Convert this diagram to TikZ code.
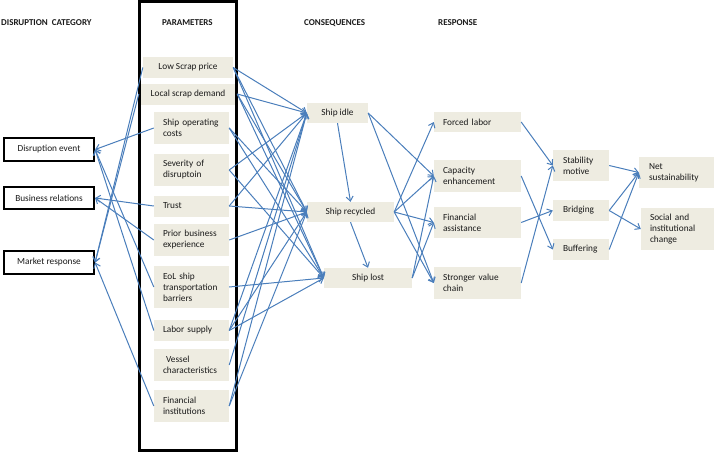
\documentclass[tikz,border=0pt]{standalone}
\usepackage{fontspec}
\setmainfont{Carlito}
\usetikzlibrary{arrows.meta}
\definecolor{lineblue}{HTML}{4A7EBB}
\definecolor{boxfill}{HTML}{EEECE1}
\definecolor{txt}{HTML}{1A1A1A}
\begin{document}
\begin{tikzpicture}[x=1pt,y=-1pt,
  every node/.style={font=\fontsize{9.3}{11}\selectfont, text=txt},
  pbox/.style={fill=boxfill, inner xsep=9pt, inner ysep=0pt, align=left},
  cbox/.style={fill=boxfill, inner sep=0pt, align=center},
  lbox/.style={draw=black, line width=2.2pt, fill=white, inner sep=0pt, align=center, minimum width=90pt},
  hdr/.style={font=\fontsize{9}{10}\selectfont\bfseries, anchor=west, inner sep=0pt},
  conn/.style={draw=lineblue, line width=1pt, -{Straight Barb[length=4.5pt,width=7pt]}},
]
\useasboundingbox (0,0) rectangle (714,452);

% headers
\node[hdr] (h1) at (1,23) {DISRUPTION\ \ CATEGORY};
\node[hdr] (h2) at (162,23) {PARAMETERS};
\node[hdr] (h3) at (304,23) {CONSEQUENCES};
\node[hdr] (h4) at (438,23) {RESPONSE};

% disruption category
\node[lbox, minimum height=23pt] (dev) at (49,149.5) {Disruption event};
\node[lbox, minimum height=22pt] (brel) at (49,198) {Business relations};
\node[lbox, minimum height=23pt] (mres) at (49,262.5) {Market response};

% parameters
\node[cbox, minimum width=90pt, minimum height=21pt] (lsp) at (188,67.5) {Low Scrap price};
\node[cbox, minimum width=98pt, minimum height=21pt] (lsd) at (188,94) {Local scrap demand};
\node[pbox, text width=57pt, minimum height=32pt] (opc) at (191.5,128) {Ship operating\\costs};
\node[pbox, text width=57pt, minimum height=32pt] (sev) at (191.5,170) {Severity of\\disruptoin};
\node[pbox, text width=57pt, minimum height=21pt] (tru) at (191.5,206) {Trust};
\node[pbox, text width=57pt, minimum height=32pt] (pri) at (191.5,240) {Prior business\\experience};
\node[pbox, text width=57pt, minimum height=42pt] (eol) at (191.5,287) {EoL ship\\transportation\\barriers};
\node[pbox, text width=57pt, minimum height=21pt] (lab) at (191.5,330.5) {Labor supply};
\node[pbox, text width=57pt, minimum height=32pt] (ves) at (191.5,365) {\ Vessel\\characteristics};
\node[pbox, text width=57pt, minimum height=32pt] (fin) at (191.5,406) {Financial\\institutions};

% parameters frame
\draw[line width=2.5pt] (139.5,1.5) rectangle (236.5,450.5);

% consequences
\node[cbox, minimum width=61pt, minimum height=20pt] (idle) at (337.5,113) {Ship idle};
\node[cbox, minimum width=87pt, minimum height=20pt] (rec) at (350.5,212) {Ship recycled};
\node[cbox, minimum width=88pt, minimum height=20pt] (lost) at (368,278) {Ship lost};

% response
\node[pbox, text width=69pt, minimum height=20pt] (forc) at (477.5,122) {Forced labor};
\node[pbox, text width=69pt, minimum height=32pt] (cap) at (477.5,176) {Capacity\\enhancement};
\node[pbox, text width=69pt, minimum height=31pt] (fas) at (477.5,222.5) {Financial\\assistance};
\node[pbox, text width=69pt, minimum height=32pt] (svc) at (477.5,283) {Stronger value\\chain};

% motives
\node[pbox, inner xsep=10pt, text width=36pt, minimum height=31pt] (stab) at (581,165.5) {Stability\\motive};
\node[pbox, inner xsep=10pt, text width=36pt, minimum height=21pt] (brid) at (581,210.5) {Bridging};
\node[pbox, inner xsep=10pt, text width=36pt, minimum height=21pt] (buff) at (581,249.5) {Buffering};

% outcomes
\node[pbox, inner xsep=10pt, text width=55pt, minimum height=31pt] (net) at (676.5,172.5) {Net\\sustainability};
\node[pbox, inner xsep=9pt, text width=55pt, minimum height=42pt] (soc) at (677.5,229) {Social and\\institutional\\change};

% parameters -> disruption category
\draw[conn] (opc.west) -- (dev.east);
\draw[conn] (eol.west) -- (dev.east);
\draw[conn] (lab.west) -- (dev.east);
\draw[conn] (tru.west) -- (brel.east);
\draw[conn] (pri.west) -- (brel.east);
\draw[conn] (lsp.west) -- (mres.east);
\draw[conn] (lsd.west) -- (mres.east);
\draw[conn] (fin.west) -- (mres.east);

% parameters -> consequences
\draw[conn] (lsp.east) -- (idle.west);
\draw[conn] (lsp.east) -- (rec.west);
\draw[conn] (lsp.east) -- (lost.west);
\draw[conn] (lsd.east) -- (idle.west);
\draw[conn] (lsd.east) -- (rec.west);
\draw[conn] (lsd.east) -- (lost.west);
\draw[conn] (opc.east) -- (rec.west);
\draw[conn] (opc.east) -- (lost.west);
\draw[conn] (sev.east) -- (idle.west);
\draw[conn] (sev.east) -- (lost.west);
\draw[conn] (tru.east) -- (idle.west);
\draw[conn] (tru.east) -- (rec.west);
\draw[conn] (pri.east) -- (rec.west);
\draw[conn] (eol.east) -- (lost.west);
\draw[conn] (lab.east) -- (idle.west);
\draw[conn] (lab.east) -- (rec.west);
\draw[conn] (lab.east) -- (lost.west);
\draw[conn] (ves.east) -- (idle.west);
\draw[conn] (fin.east) -- (idle.west);
\draw[conn] (fin.east) -- (rec.west);

% consequences
\draw[conn] (idle.south) -- (rec.north);
\draw[conn] (rec.south) -- (lost.north);
\draw[conn] (idle.east) -- (cap.west);
\draw[conn] (idle.east) -- (svc.west);
\draw[conn] (rec.east) -- (forc.west);
\draw[conn] (rec.east) -- (cap.west);
\draw[conn] (rec.east) -- (fas.west);
\draw[conn] (rec.east) -- (svc.west);
\draw[conn] (lost.east) -- (cap.west);
\draw[conn] (lost.east) -- (fas.west);

% response -> motives
\draw[conn] (forc.east) -- (stab.west);
\draw[conn] (cap.east) -- (buff.west);
\draw[conn] (fas.east) -- (brid.west);
\draw[conn] (svc.east) -- (stab.west);

% motives -> outcomes
\draw[conn] (stab.east) -- (net.west);
\draw[conn] (brid.east) -- (net.west);
\draw[conn] (brid.east) -- (soc.west);
\draw[conn] (buff.east) -- (net.west);
\end{tikzpicture}
\end{document}
